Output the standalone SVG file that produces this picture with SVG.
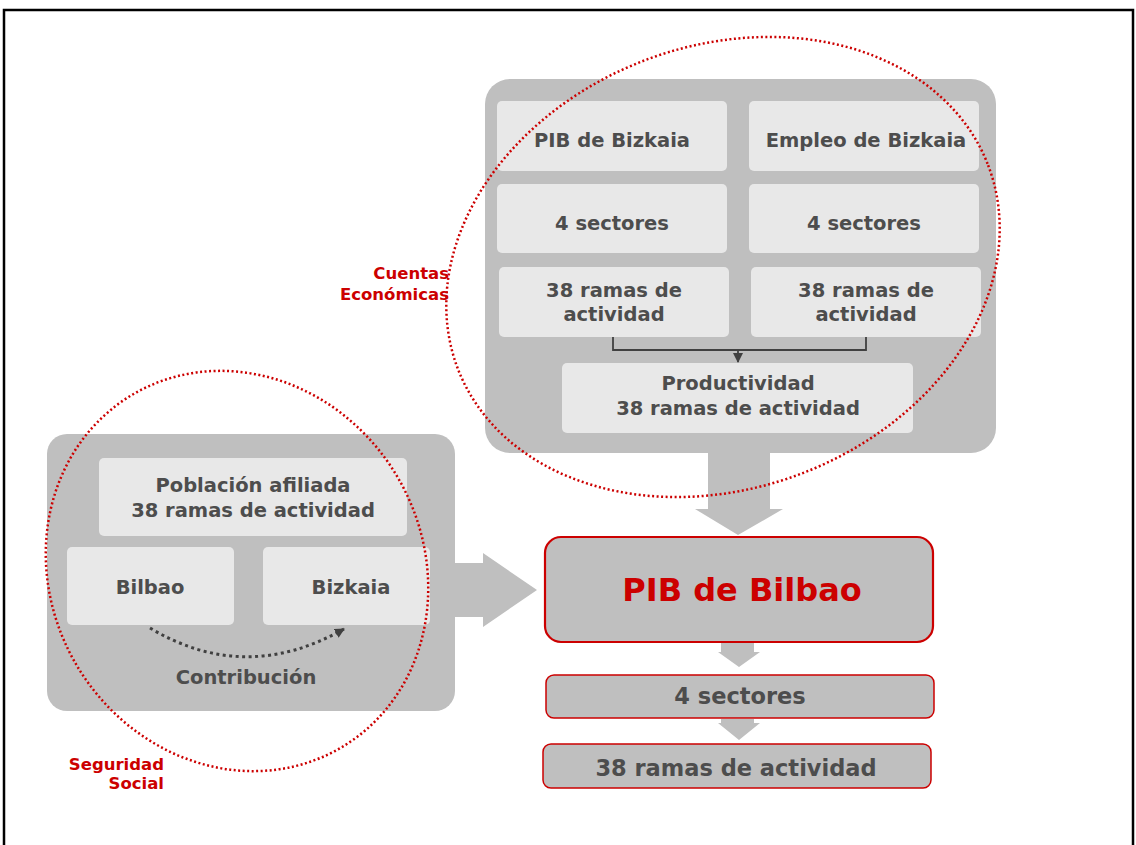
<svg xmlns="http://www.w3.org/2000/svg" width="1136" height="845" viewBox="0 0 1136 845">
<style>
.panel{fill:#bfbfbf}
.box{fill:#e8e8e8}
.t{font-family:"DejaVu Sans",sans-serif;font-weight:bold;fill:#4d4d4d;text-anchor:middle}
.m{font-size:19.5px}
.red{fill:#cc0000}
.lab{font-family:"DejaVu Sans",sans-serif;font-weight:bold;fill:#cc0000;font-size:16.5px;text-anchor:end}
.dot{fill:none;stroke:#cc0000;stroke-width:2.5;stroke-dasharray:2 2.5}
.rbox{fill:#bfbfbf;stroke:#cc0000}
</style>
<defs>
<marker id="ah2" viewBox="0 0 10 10" refX="9" refY="5" markerWidth="10" markerHeight="10" markerUnits="userSpaceOnUse" orient="auto"><path d="M0,0L10,5L0,10z" fill="#404040"/></marker>
</defs>
<rect x="4" y="10" width="1129" height="860" fill="#fff" stroke="#000" stroke-width="2.5"/>

<g id="panel-cuentas">
<rect class="panel" x="485" y="79" width="511" height="374" rx="25"/>
</g>
<g id="pib-bizkaia"><rect class="box" x="497" y="101" width="230" height="70" rx="5"/><text class="t m" x="612" y="147">PIB de Bizkaia</text></g>
<g id="empleo-bizkaia"><rect class="box" x="749" y="101" width="230" height="70" rx="5"/><text class="t m" x="866" y="147">Empleo de Bizkaia</text></g>
<g id="sectores-1"><rect class="box" x="497" y="184" width="230" height="69" rx="5"/><text class="t m" x="612" y="230">4 sectores</text></g>
<g id="sectores-2"><rect class="box" x="749" y="184" width="230" height="69" rx="5"/><text class="t m" x="864" y="230">4 sectores</text></g>
<g id="ramas-1"><rect class="box" x="499" y="267" width="230" height="70" rx="5"/><text class="t m" x="614" y="297">38 ramas de</text><text class="t m" x="614" y="321">actividad</text></g>
<g id="ramas-2"><rect class="box" x="751" y="267" width="230" height="70" rx="5"/><text class="t m" x="866" y="297">38 ramas de</text><text class="t m" x="866" y="321">actividad</text></g>
<g id="productividad"><rect class="box" x="562" y="363" width="351" height="70" rx="5"/><text class="t m" x="738" y="390">Productividad</text><text class="t m" x="738" y="415">38 ramas de actividad</text></g>

<g id="panel-seguridad">
<rect class="panel" x="47" y="434" width="408" height="277" rx="20"/>
<text class="t m" x="246" y="684">Contribución</text>
</g>
<g id="poblacion"><rect class="box" x="99" y="458" width="308" height="78" rx="5"/><text class="t m" x="253" y="492">Población afiliada</text><text class="t m" x="253" y="517">38 ramas de actividad</text></g>
<g id="bilbao"><rect class="box" x="67" y="547" width="167" height="78" rx="5"/><text class="t m" x="150" y="594">Bilbao</text></g>
<g id="bizkaia"><rect class="box" x="263" y="547" width="167" height="78" rx="5"/><text class="t m" x="351" y="594">Bizkaia</text></g>

<g id="pib-bilbao"><rect class="rbox" x="545" y="537" width="388" height="105" rx="16" stroke-width="2.2"/><text class="t red" x="742" y="601" font-size="32">PIB de Bilbao</text></g>
<g id="sectores-bilbao"><rect class="rbox" x="546" y="675" width="388" height="43" rx="8" stroke-width="1.5"/><text class="t" x="740" y="704" font-size="22.5">4 sectores</text></g>
<g id="ramas-bilbao"><rect class="rbox" x="543" y="744" width="388" height="44" rx="8" stroke-width="1.5"/><text class="t" x="736" y="776" font-size="22.5">38 ramas de actividad</text></g>

<g id="connectors">
<path class="panel" d="M708,452H770V509H783L738,535L695,509H708Z"/>
<path class="panel" d="M455,563H483V553L537,590L483,627V617H455Z"/>
<path class="panel" d="M721,643H754V652H760L739,667L718,652H721Z"/>
<path class="panel" d="M721,719H754V723H760L739,740L718,723H721Z"/>
<path d="M613,337V350H866V337" fill="none" stroke="#404040" stroke-width="1.8"/>
<path d="M738,350V362" fill="none" stroke="#404040" stroke-width="1.8" marker-end="url(#ah2)"/>
<path d="M150,628Q245,685 344,629" fill="none" stroke="#404040" stroke-width="3" stroke-dasharray="3 3.5" marker-end="url(#ah2)"/>
</g>

<g id="ellipses">
<ellipse class="dot" cx="723" cy="267" rx="284" ry="221" transform="rotate(-21 723 267)"/>
<ellipse class="dot" cx="237" cy="571" rx="186" ry="205" transform="rotate(-31 237 571)"/>
</g>
<g id="labels">
<text class="lab" x="449" y="279">Cuentas</text>
<text class="lab" x="449" y="300">Económicas</text>
<text class="lab" x="164" y="770">Seguridad</text>
<text class="lab" x="164" y="789">Social</text>
</g>
</svg>
